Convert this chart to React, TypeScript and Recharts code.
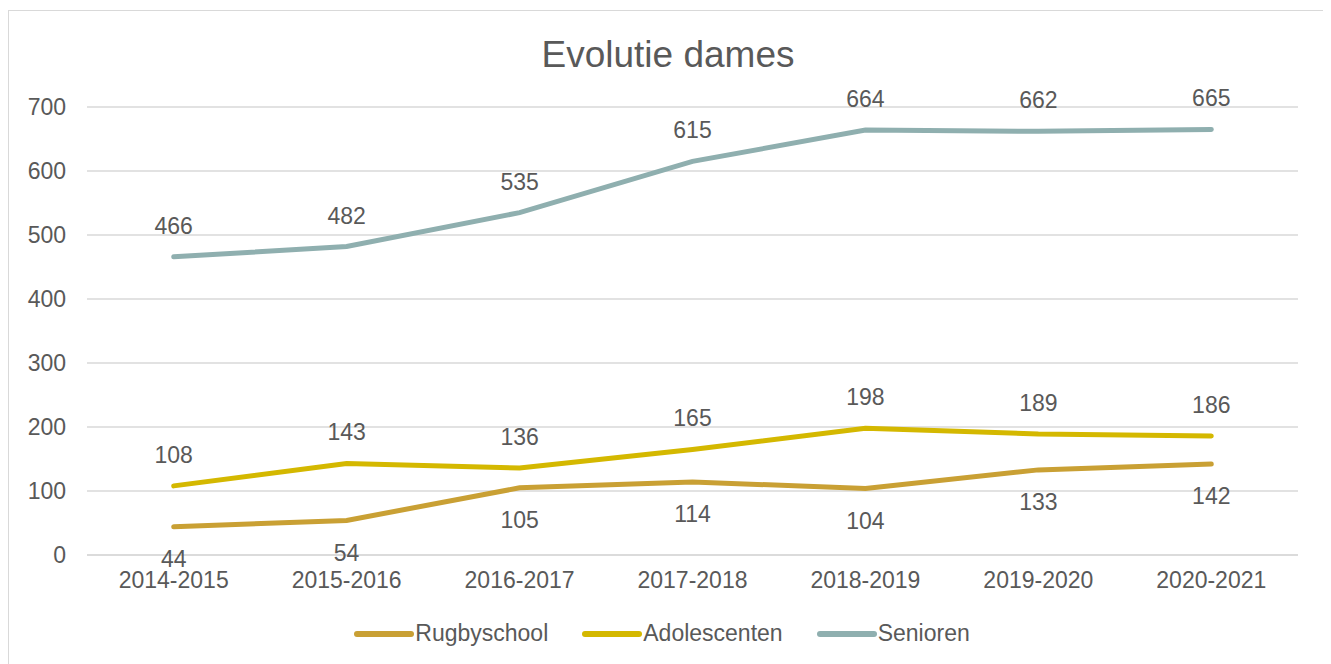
import { LineChart, Line, XAxis, YAxis, CartesianGrid, Legend, LabelList } from 'recharts'

const seasons = ['2014-2015', '2015-2016', '2016-2017', '2017-2018', '2018-2019', '2019-2020', '2020-2021']
const rugbyschool = [44, 54, 105, 114, 104, 133, 142]
const adolescenten = [108, 143, 136, 165, 198, 189, 186]
const senioren = [466, 482, 535, 615, 664, 662, 665]
const yTicks = [0, 100, 200, 300, 400, 500, 600, 700]
const seriesOrder = ['Rugbyschool', 'Adolescenten', 'Senioren']

const data = seasons.map((s, i) => ({
  season: s,
  Rugbyschool: rugbyschool[i],
  Adolescenten: adolescenten[i],
  Senioren: senioren[i],
}))

const TEXT = '#595959'
const FONT = '"Liberation Sans", Arial, sans-serif'

function LegendContent({ payload }: { payload?: any[] }) {
  const items = [...(payload ?? [])].sort((a, b) => seriesOrder.indexOf(a.value) - seriesOrder.indexOf(b.value))
  return (
    <div style={{ display: 'flex', justifyContent: 'center', gap: 34, fontFamily: FONT, fontSize: 23, color: TEXT }}>
      {items.map((p) => (
        <div key={p.value} style={{ display: 'flex', alignItems: 'center' }}>
          <svg width={60} height={10} style={{ marginRight: 1 }}>
            <line x1={3} y1={5} x2={57} y2={5} stroke={p.color} strokeWidth={6} strokeLinecap="round" />
          </svg>
          <span>{p.value}</span>
        </div>
      ))}
    </div>
  )
}

export default function App() {
  return (
    <div style={{ position: 'relative', width: 1320, height: 660, marginTop: 2, border: '1px solid #d9d9d9', background: '#fff', boxSizing: 'border-box' }}>
      <div style={{ position: 'absolute', top: 23, left: 0, width: '100%', textAlign: 'center', fontFamily: FONT, fontSize: 37, color: TEXT }}>
        Evolutie dames
      </div>
      <LineChart width={1318} height={656} data={data} margin={{ top: 96, right: 29, bottom: 55, left: 17 }}>
        <CartesianGrid vertical={false} stroke="#d9d9d9" strokeWidth={1.5} />
        <XAxis
          dataKey="season"
          axisLine={{ stroke: '#d9d9d9', strokeWidth: 1.5 }}
          tickLine={false}
          padding={{ left: 86.7, right: 86.7 }}
          tick={{ fill: TEXT, fontSize: 23, fontFamily: FONT }}
          tickMargin={11}
        />
        <YAxis
          domain={[0, 700]}
          ticks={yTicks}
          axisLine={false}
          tickLine={false}
          width={61}
          tickMargin={15}
          tick={{ fill: TEXT, fontSize: 23, fontFamily: FONT }}
        />
        <Legend verticalAlign="bottom" content={<LegendContent />} wrapperStyle={{ bottom: 20 }} />
        <Line dataKey="Rugbyschool" stroke="#c9a034" strokeWidth={5} dot={false} isAnimationActive={false} strokeLinecap="round">
          <LabelList dataKey="Rugbyschool" position="bottom" offset={24} fill={TEXT} fontSize={23} fontFamily={FONT} />
        </Line>
        <Line dataKey="Adolescenten" stroke="#d4b800" strokeWidth={5} dot={false} isAnimationActive={false} strokeLinecap="round">
          <LabelList dataKey="Adolescenten" position="top" offset={23} fill={TEXT} fontSize={23} fontFamily={FONT} />
        </Line>
        <Line dataKey="Senioren" stroke="#8fafaf" strokeWidth={5} dot={false} isAnimationActive={false} strokeLinecap="round">
          <LabelList dataKey="Senioren" position="top" offset={23} fill={TEXT} fontSize={23} fontFamily={FONT} />
        </Line>
      </LineChart>
    </div>
  )
}
